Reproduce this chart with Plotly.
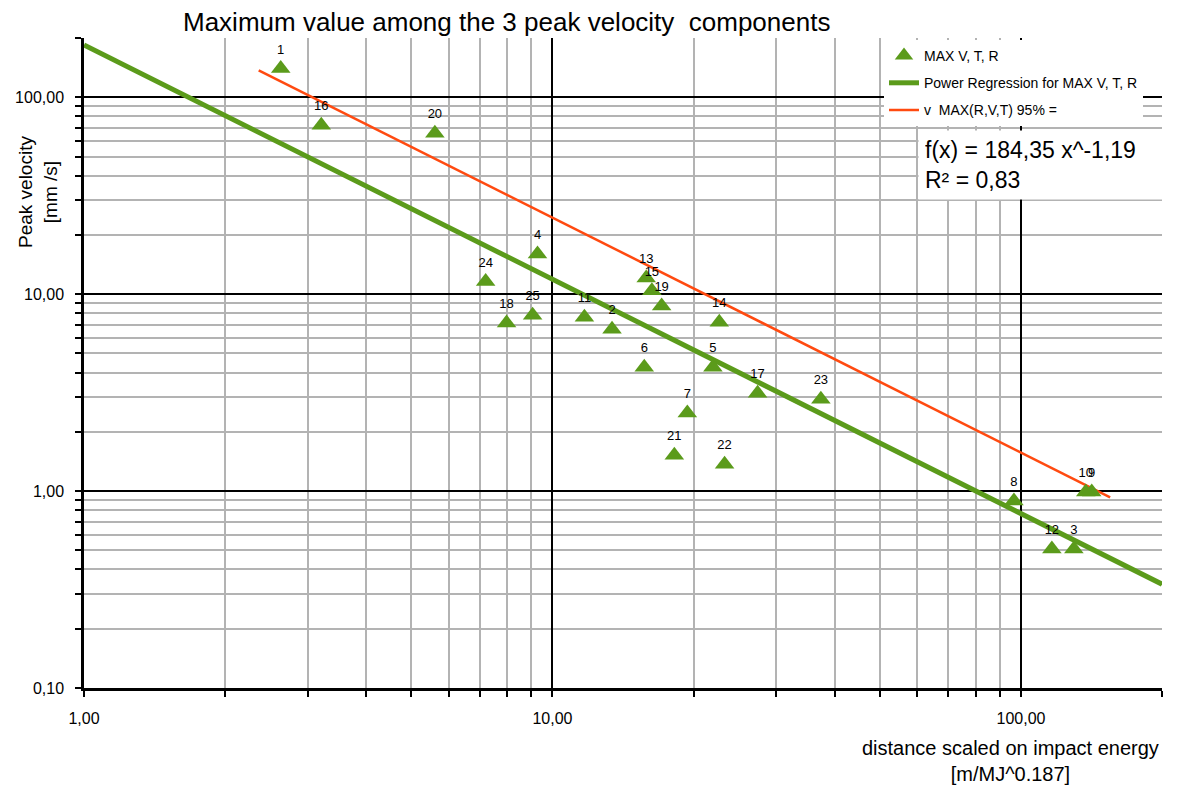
import plotly.graph_objects as go
import numpy as np

# ---- data ----
labels = ["1", "2", "3", "4", "5", "6", "7", "8", "9", "10", "11", "12", "13",
          "14", "15", "16", "17", "18", "19", "20", "21", "22", "23", "24", "25"]
dist = [2.63, 13.4, 129.7, 9.29, 22.0, 15.7, 19.4, 96.6, 141.6, 137.5, 11.7, 116.4, 15.85,
        22.7, 16.3, 3.21, 27.4, 7.98, 17.1, 5.61, 18.2, 23.3, 37.4, 7.2, 9.07]
vel = [140, 6.64, 0.508, 16.0, 4.26, 4.26, 2.49, 0.89, 0.99, 0.99, 7.64, 0.508, 12.1,
       7.21, 10.4, 72.1, 3.14, 7.13, 8.7, 65.7, 1.52, 1.37, 2.93, 11.6, 7.82]

# power regression f(x) = 184.35 x^-1.19 (as printed on the chart)
reg_a, reg_b = 184.35, -1.19
reg_x = [1.0, 200.0]
reg_y = [reg_a * v ** reg_b for v in reg_x]

# 95% line (end points)
p95_x = [2.36, 155.0]
p95_y = [137.0, 0.93]

x_major = [1, 10, 100]
x_major_text = ["1,00", "10,00", "100,00"]
y_major = [0.1, 1, 10, 100]
y_major_text = ["0,10", "1,00", "10,00", "100,00"]

GREEN = "#5b9b1b"
RED = "#ff4a10"
FONT = "Liberation Sans, Arial, sans-serif"

def minors(decades, top):
    out = []
    for d in decades:
        for m in range(2, 10):
            v = m * d
            if v <= top * 1.0001:
                out.append(v)
    return out

x_minor = minors([1, 10, 100], 200)
y_minor = minors([0.1, 1, 10, 100], 200)

fig = go.Figure()
fig.add_trace(go.Scatter(
    x=reg_x, y=reg_y, mode="lines", name="Power Regression for MAX V, T, R",
    legendrank=2, legendgroup="g2", line=dict(color=GREEN, width=5)))
fig.add_trace(go.Scatter(
    x=p95_x, y=p95_y, mode="lines", name="v  MAX(R,V,T) 95% =",
    legendrank=3, legendgroup="g3", line=dict(color=RED, width=2.5)))
fig.add_trace(go.Scatter(
    x=dist, y=vel, mode="markers+text", name="MAX V, T, R",
    legendrank=1, legendgroup="g1",
    text=labels, textposition="top center",
    textfont=dict(size=13, color="black", family=FONT),
    marker=dict(symbol="triangle-up", size=17, color=GREEN)))

axis_common = dict(
    type="log", showline=True, linecolor="black", linewidth=2.5,
    ticks="outside", ticklen=6, tickwidth=2, tickcolor="black",
    showgrid=True, gridcolor="black", gridwidth=2, zeroline=False,
    tickfont=dict(size=16, color="black", family=FONT),
    ticklabelstandoff=8, automargin=False,
)

fig.update_xaxes(
    **axis_common, range=[0, np.log10(200)],
    tickvals=x_major, ticktext=x_major_text,
    minor=dict(tickvals=x_minor, showgrid=True, gridcolor="#b3b3b3", gridwidth=2,
               ticks="outside", ticklen=6, tickwidth=2, tickcolor="black"))
fig.update_yaxes(
    **axis_common, range=[-1, np.log10(200)],
    tickvals=y_major, ticktext=y_major_text,
    minor=dict(tickvals=y_minor, showgrid=True, gridcolor="#b3b3b3", gridwidth=2,
               ticks="outside", ticklen=6, tickwidth=2, tickcolor="black"))

# page has an 8px body margin; target plot area in page pixels
OFF = 8
PL, PT, PR, PB = 84, 38, 1162, 688
R, B = 16, 101
W = PR - OFF + R
H = PB - OFF + B
L, T = PL - OFF, PT - OFF
pw, ph = PR - PL, PB - PT

def px(xp):
    return (xp - PL) / pw

def py(yp):
    return 1 - (yp - PT) / ph

annotations = [
    dict(text="Maximum value among the 3 peak velocity  components",
         x=px(506), y=py(22), xref="paper", yref="paper", showarrow=False,
         xanchor="center", yanchor="middle",
         font=dict(size=26, color="black", family=FONT)),
    dict(text="Peak velocity<br>[mm /s]", textangle=-90,
         x=px(38), y=py(192), xref="paper", yref="paper", showarrow=False,
         xanchor="center", yanchor="middle",
         font=dict(size=19, color="black", family=FONT)),
    dict(text="distance scaled on impact energy<br>[m/MJ^0.187]",
         x=px(1010), y=py(761), xref="paper", yref="paper", showarrow=False,
         xanchor="center", yanchor="middle",
         font=dict(size=20, color="black", family=FONT)),
    dict(text="f(x) = 184,35 x^-1,19<br>R² = 0,83", align="left",
         x=px(918), y=py(130), xref="paper", yref="paper", showarrow=False,
         xanchor="left", yanchor="top", bgcolor="white", width=232,
         borderpad=6,
         font=dict(size=23, color="black", family=FONT)),
]

fig.update_layout(
    width=W, height=H,
    margin=dict(l=L, r=R, t=T, b=B, autoexpand=False),
    paper_bgcolor="white", plot_bgcolor="white",
    font=dict(family=FONT, color="black"),
    showlegend=True,
    legend=dict(x=px(884), y=py(40), xanchor="left", yanchor="top", bgcolor="white",
                font=dict(size=14, color="black", family=FONT),
                itemwidth=30, tracegroupgap=6),
    annotations=annotations,
)

fig.write_html("out.html")
